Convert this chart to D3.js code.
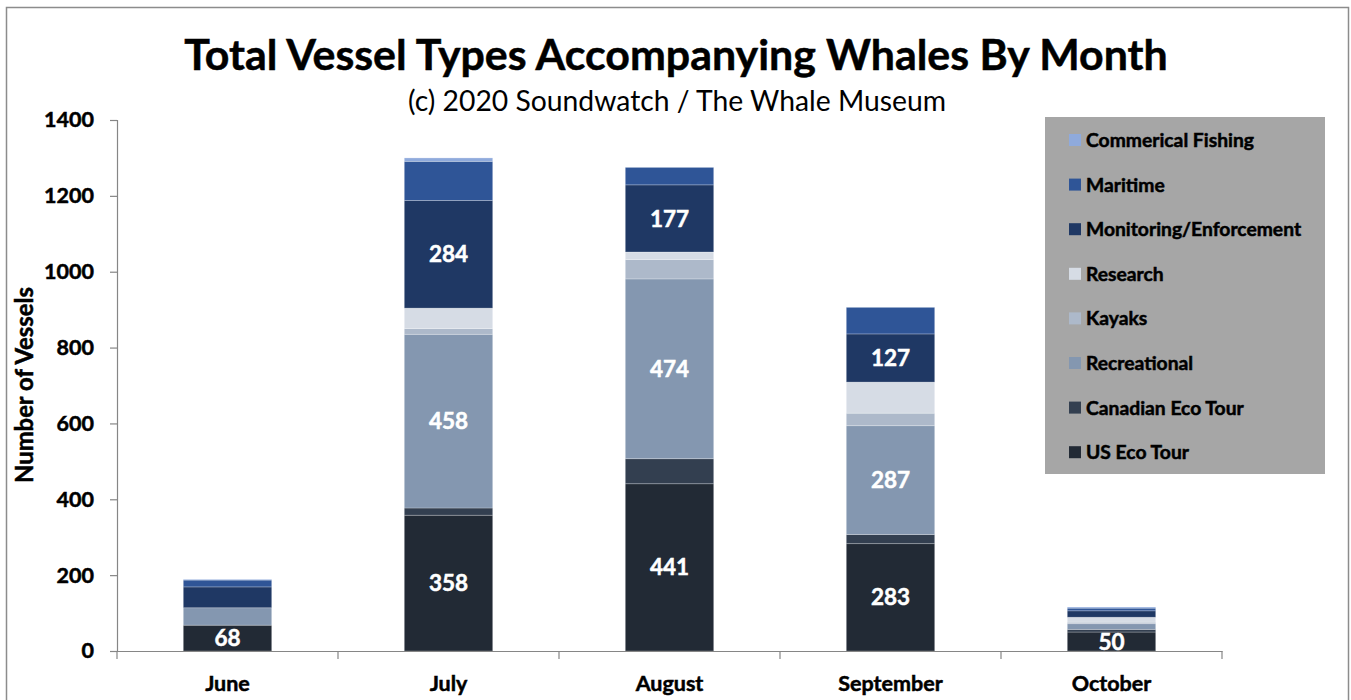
<!DOCTYPE html>
<html>
<head>
<meta charset="utf-8">
<script src="https://cdn.jsdelivr.net/npm/d3@7"></script>
<style>
  html, body { margin: 0; padding: 0; background: #ffffff; }
  svg { display: block; font-family: Lato, "Open Sans", "Liberation Sans", sans-serif; }
</style>
</head>
<body>
<svg id="chart" width="1351" height="700"></svg>
<script>
// ---- Data ----
const months = ["June", "July", "August", "September", "October"];
const seriesNames = ["US Eco Tour", "Canadian Eco Tour", "Recreational", "Kayaks", "Research", "Monitoring/Enforcement", "Maritime", "Commerical Fishing"];
const usEcoTour = [68, 358, 441, 283, 50];
const canadianEcoTour = [0, 19, 66, 24, 7];
const recreational = [46, 458, 474, 287, 15];
const kayaks = [0, 15, 51, 33, 4];
const research = [0, 54, 20, 82, 13];
const monitoring = [55, 284, 177, 127, 17];
const maritime = [18, 103, 46, 70, 7];
const commercialFishing = [2, 9, 0, 0, 3];
const yTicks = [0, 200, 400, 600, 800, 1000, 1200, 1400];
const titleText = "Total Vessel Types Accompanying Whales By Month";
const subtitleText = "(c) 2020 Soundwatch / The Whale Museum";
const yAxisTitle = "Number of Vessels";

const seriesValues = [usEcoTour, canadianEcoTour, recreational, kayaks, research, monitoring, maritime, commercialFishing];
const colors = ["#222a35", "#333f50", "#8497b0", "#adb9ca", "#d6dce5", "#1f3864", "#2f5597", "#8faadc"];
const labeledAlways = ["US Eco Tour"];
const labeledLarge = ["Recreational", "Monitoring/Enforcement"];

const table = months.map((m, i) => {
  const row = { month: m };
  seriesNames.forEach((s, j) => row[s] = seriesValues[j][i]);
  return row;
});

const svg = d3.select("#chart");

// outer frame
svg.append("rect").attr("x", 6.5).attr("y", 7.5).attr("width", 1342).attr("height", 720)
  .attr("fill", "none").attr("stroke", "#8c8c8c").attr("stroke-width", 1.5);

const plot = { left: 117, right: 1222, top: 120, bottom: 651 };

const x = d3.scaleBand().domain(months).range([plot.left, plot.right]).paddingInner(0.6).paddingOuter(0.3);
const y = d3.scaleLinear().domain([0, 1400]).range([plot.bottom, plot.top]);

const stacked = d3.stack().keys(seriesNames)(table);

// bars
const g = svg.append("g");
stacked.forEach((layer, li) => {
  g.selectAll(null).data(layer).enter().append("rect")
    .attr("x", d => x(d.data.month))
    .attr("width", x.bandwidth())
    .attr("y", d => y(d[1]))
    .attr("height", d => Math.max(0, y(d[0]) - y(d[1])))
    .attr("fill", colors[li])
    .attr("stroke", d => (d[1] - d[0]) > 0 ? "rgba(255,255,255,0.3)" : "none")
    .attr("stroke-width", 0.8);
});

const boldStroke = (sel, c) => sel.attr("stroke", c).attr("stroke-width", 0.5).attr("paint-order", "stroke");

// value labels
stacked.forEach((layer, li) => {
  const name = seriesNames[li];
  layer.forEach(d => {
    const v = d[1] - d[0];
    const show = labeledAlways.includes(name) || (labeledLarge.includes(name) && v >= 100);
    if (!show) return;
    const t = svg.append("text")
      .attr("x", x(d.data.month) + x.bandwidth() / 2)
      .attr("y", (y(d[0]) + y(d[1])) / 2)
      .attr("dy", "0.36em")
      .attr("text-anchor", "middle")
      .attr("fill", "#ffffff")
      .attr("font-weight", "bold")
      .attr("font-size", 22.5)
      .text(v);
    boldStroke(t, "#ffffff");
  });
});

// Y axis
const yAxis = d3.axisLeft(y).tickValues(yTicks).tickSize(7).tickPadding(16).tickFormat(d3.format("d"));
const ya = svg.append("g").attr("transform", `translate(${plot.left},0)`).call(yAxis);
ya.select(".domain").attr("stroke", "#868686").attr("stroke-width", 1.2);
ya.selectAll(".tick line").attr("stroke", "#868686").attr("stroke-width", 1.2);
ya.selectAll(".tick text").attr("font-size", 21.5).attr("font-weight", "bold").attr("fill", "#000")
  .attr("font-family", "Lato, sans-serif").call(s => boldStroke(s, "#000"));

// X axis
const xAxis = d3.axisBottom(x).tickSize(0).tickPadding(25);
const xa = svg.append("g").attr("transform", `translate(0,${plot.bottom})`).call(xAxis);
xa.select(".domain").attr("stroke", "#868686").attr("stroke-width", 1.2);
xa.selectAll(".tick text").attr("font-size", 21.5).attr("font-weight", "bold").attr("fill", "#000")
  .attr("font-family", "Lato, sans-serif").call(s => boldStroke(s, "#000"));
// category boundary ticks
const step = x.step();
const boundaries = months.map(m => x(m) - (step - x.bandwidth()) / 2).concat([plot.right]);
svg.selectAll(null).data(boundaries).enter().append("line")
  .attr("x1", d => d).attr("x2", d => d)
  .attr("y1", plot.bottom).attr("y2", plot.bottom + 8)
  .attr("stroke", "#868686").attr("stroke-width", 1.2);

// Title
function fitText(sel, targetWidth) {
  const w = sel.node().getComputedTextLength();
  const fs = parseFloat(sel.attr("font-size"));
  sel.attr("font-size", fs * targetWidth / w);
}
const title = svg.append("text").attr("x", 676).attr("y", 70).attr("text-anchor", "middle")
  .attr("font-weight", "bold").attr("font-size", 40).attr("fill", "#000").text(titleText);
fitText(title, 984);
boldStroke(title, "#000");
const sub = svg.append("text").attr("x", 677).attr("y", 111).attr("text-anchor", "middle")
  .attr("font-size", 26).attr("fill", "#000").text(subtitleText);
fitText(sub, 538);

// Y axis title
const yt = svg.append("text").attr("transform", `translate(33,385) rotate(-90)`).attr("text-anchor", "middle")
  .attr("font-weight", "bold").attr("font-size", 20).attr("fill", "#000").text(yAxisTitle);
fitText(yt, 196);
boldStroke(yt, "#000");

// Legend
const lg = svg.append("g");
lg.append("rect").attr("x", 1045).attr("y", 117).attr("width", 280).attr("height", 357).attr("fill", "#a6a6a6");
const legendOrder = seriesNames.slice().reverse();
legendOrder.forEach((name, i) => {
  const cy = 140 + i * 44.6;
  const ci = seriesNames.indexOf(name);
  lg.append("rect").attr("x", 1069).attr("y", cy - 6).attr("width", 12).attr("height", 12).attr("fill", colors[ci]);
  const t = lg.append("text").attr("x", 1086).attr("y", cy).attr("dy", "0.36em")
    .attr("font-weight", "bold").attr("font-size", 19.3).attr("fill", "#000").text(name);
  boldStroke(t, "#000");
});
</script>
</body>
</html>
